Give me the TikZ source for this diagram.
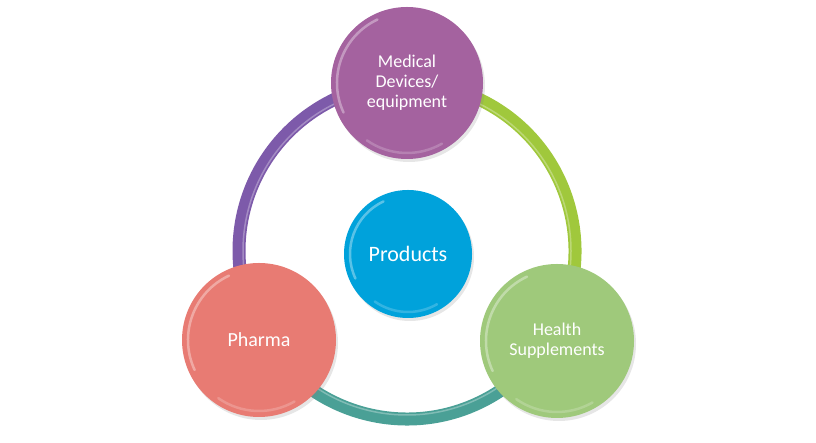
\documentclass[tikz,border=0pt]{standalone}
\usepackage{fontspec}
\setmainfont{Carlito}
\usetikzlibrary{shadows}
\definecolor{mPurple}{HTML}{A4629F}
\definecolor{mSalmon}{HTML}{E87B73}
\definecolor{mGreen}{HTML}{9FC97B}
\definecolor{mBlue}{HTML}{00A2DB}
\definecolor{mRingPurple}{HTML}{7D5AAA}
\definecolor{mRingGreen}{HTML}{A0C83C}
\definecolor{mRingTeal}{HTML}{4AA096}
\tikzset{
  bubble/.style={circle, fill=#1, text=white, align=center, inner sep=0pt,
    font=\fontsize{18}{20}\selectfont,
    drop shadow={opacity=0.2, shadow xshift=2pt, shadow yshift=-3pt}},
  tube/.style={draw=#1, line width=13pt},
  gloss/.style={white, opacity=0.35, line width=2.5pt, line cap=round}
}
\begin{document}
\begin{tikzpicture}[x=1pt,y=1pt]
\useasboundingbox (0,0) rectangle (816,443);
\coordinate (hub) at (407,192);

\draw[tube=mRingPurple] (hub) ++(90:168) arc[start angle=90, end angle=210, radius=168];
\draw[tube=mRingTeal] (hub) ++(210:168) arc[start angle=210, end angle=330, radius=168];
\draw[tube=mRingGreen] (hub) ++(330:168) arc[start angle=330, end angle=450, radius=168];
\draw[gloss, opacity=0.3, line width=1.5pt] (hub) ++(0:164) arc[start angle=0, end angle=360, radius=164];

\node[bubble=mPurple, minimum size=152pt] (medical) at (407,360) {Medical\\Devices/\\equipment};
\node[bubble=mSalmon, minimum size=154pt, font=\fontsize{20}{22}\selectfont] (pharma) at (259,103) {Pharma};
\node[bubble=mGreen, minimum size=154pt] (health) at (557,102) {Health\\Supplements};
\node[bubble=mBlue, minimum size=128pt, font=\fontsize{22}{24}\selectfont] (products) at (408,189) {Products};

\foreach \n/\r in {medical/70, pharma/71, health/71, products/58} {
  \draw[gloss] (\n.center) ++(115:\r) arc[start angle=115, end angle=205, radius=\r];
  \draw[gloss, opacity=0.2] (\n.center) ++(235:\r) arc[start angle=235, end angle=300, radius=\r];
}
\end{tikzpicture}
\end{document}
